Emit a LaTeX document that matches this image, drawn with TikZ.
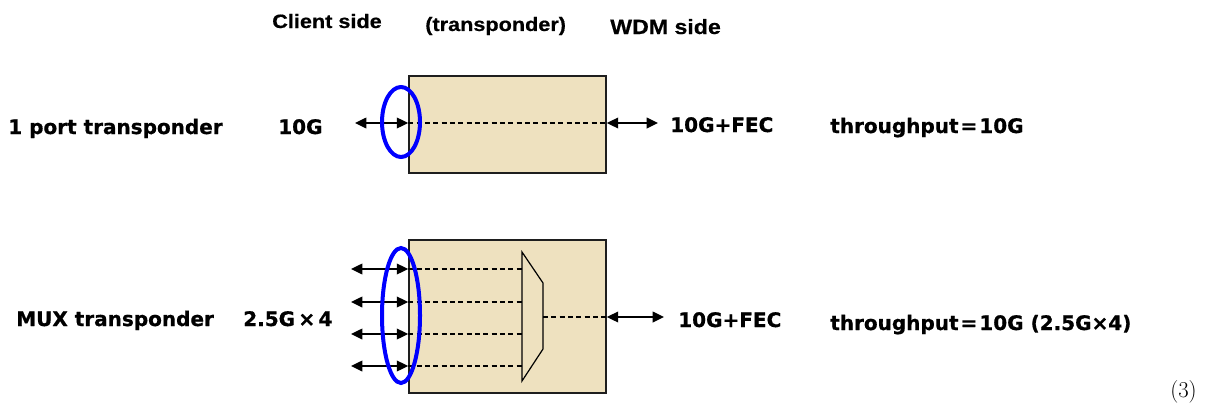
\documentclass[tikz,border=0pt]{standalone}
\usepackage{fontspec}
\usetikzlibrary{shapes.geometric,arrows.meta}
\newfontfamily\vfont[BoldFeatures={FakeBold=0.8}]{DejaVu Sans}
\newfontfamily\hfont[FakeStretch=1.12,BoldFeatures={FakeBold=0.6}]{Liberation Sans}
\definecolor{boxfill}{RGB}{238,225,191}
\definecolor{boxline}{RGB}{30,30,30}
\definecolor{ringblue}{RGB}{0,0,255}
\tikzset{
  px/.style={x=0.75pt,y=-0.75pt},
  lbl/.style={anchor=base west,inner sep=0pt,font=\vfont\bfseries\fontsize{15pt}{18pt}\selectfont},
  hdr/.style={anchor=base west,inner sep=0pt,font=\hfont\bfseries\fontsize{14.5pt}{17pt}\selectfont},
  tbox/.style={draw=boxline,fill=boxfill,line width=1.2pt,inner sep=0pt,minimum width=147.75pt},
  ring/.style={draw=ringblue,line width=3pt,ellipse,inner sep=0pt},
  biarrow/.style={{Triangle[length=8.5pt,width=8pt]}-{Triangle[length=8.5pt,width=8pt]},line width=1.1pt},
  dline/.style={dash pattern=on 3.75pt off 2.5pt,line width=0.9pt},
  muxshape/.style={draw=black,fill=boxfill,line width=0.9pt,line join=miter}
}
\begin{document}
\begin{tikzpicture}[px]
\useasboundingbox (0,0) rectangle (1205,407);
% headers
\node[hdr] (hc) at (272,28) {Client side};
\node[hdr] (ht) at (425,31) {(transponder)};
\node[hdr,font=\hfont\bfseries\fontsize{15.5pt}{18pt}\selectfont] (hw) at (610,34) {WDM side};
% row 1
\node[lbl] (r1) at (8,134) {1 port transponder};
\node[lbl] (c1) at (278,134) {10G};
\node[tbox,minimum height=72.75pt] (b1) at (507.5,124.5) {};
\coordinate (l1) at (355,123);
\coordinate (o1) at (658,123);
\draw[dline] (b1.west |- l1) -- (b1.east |- l1);
\draw[biarrow] (l1) -- (b1.west |- l1);
\draw[biarrow] (b1.east |- o1) -- (o1);
\node[lbl] (w1) at (670,132) {10G+FEC};
\node[lbl] (t1) at (830,133) {throughput\kern1.5pt=\kern1.5pt10G};
\node[ring,minimum width=28.5pt,minimum height=52.5pt] (e1) at (401,122) {};
% row 2
\node[lbl] (r2) at (16,326) {MUX transponder};
\node[lbl] (c2) at (243,326) {2.5G\kern2.5pt×\kern2.5pt4};
\node[tbox,minimum height=114.75pt] (b2) at (507.5,316.5) {};
\coordinate (m1) at (522,252);
\coordinate (m2) at (543,283);
\coordinate (m3) at (543,349);
\coordinate (m4) at (522,381);
\foreach \yy/\nm in {269/a,302/b,334/c,366/d}{
  \coordinate (in\nm) at (351,\yy);
  \draw[dline] (b2.west |- in\nm) -- (m1 |- in\nm);
  \draw[biarrow] (in\nm) -- (b2.west |- in\nm);
}
\draw[muxshape] (m1) -- (m2) -- (m3) -- (m4) -- cycle;
\coordinate (o2) at (664,317);
\draw[dline] (m2 |- o2) -- (b2.east |- o2);
\draw[biarrow] (b2.east |- o2) -- (o2);
\node[lbl] (w2) at (678,327) {10G+FEC};
\node[lbl] (t2) at (830,330) {throughput\kern1.5pt=\kern1.5pt10G (2.5G×4)};
\node[ring,minimum width=28.5pt,minimum height=101.25pt] (e2) at (401,315.5) {};
% equation number
\node[anchor=base west,inner sep=0pt,font=\fontsize{17pt}{20pt}\selectfont] (eq) at (1170,397) {(3)};
\end{tikzpicture}
\end{document}
